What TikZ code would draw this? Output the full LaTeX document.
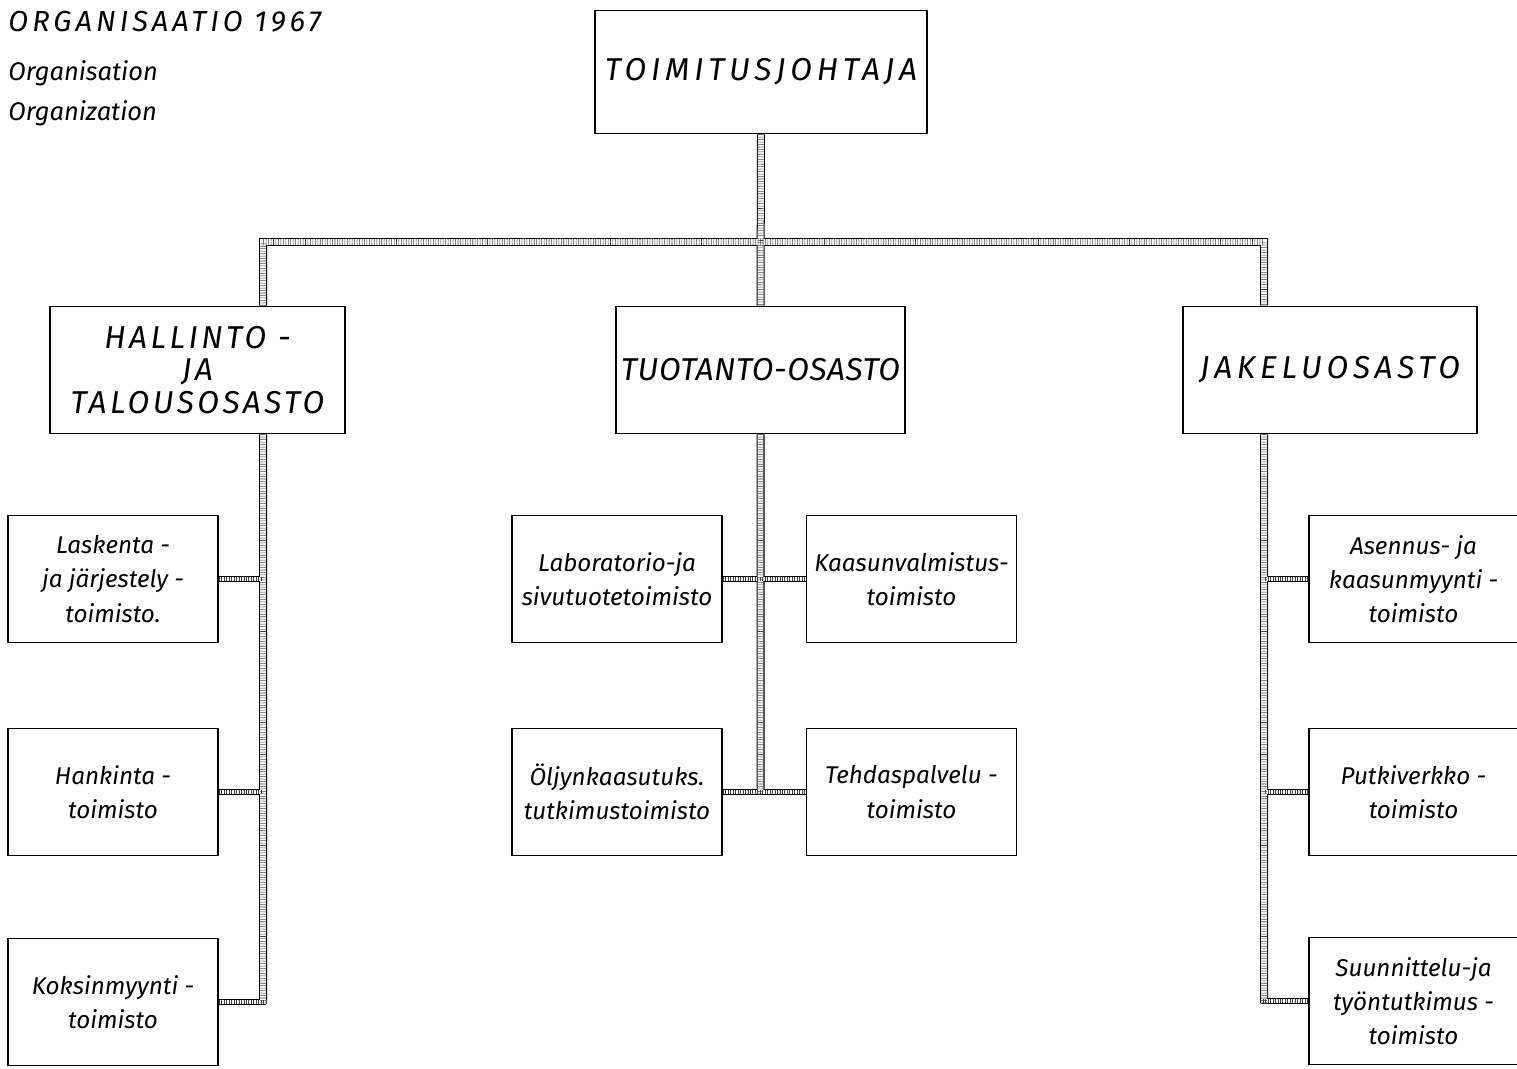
\documentclass[tikz,border=0pt]{standalone}
\usepackage{fontspec}
\setmainfont{Fira Sans}
\usetikzlibrary{calc}
\tikzset{
    every picture/.style={font=\itshape},
    box/.style={draw, line width=1.1pt, fill=white, align=center, inner sep=2pt},
    dept/.style={box, font={\fontsize{18}{18.5}\selectfont\itshape\addfontfeature{LetterSpace=#1}}},
    office/.style={box, minimum width=4.2cm, minimum height=2.54cm,
        font=\fontsize{13.8}{19.5}\selectfont\itshape},
    trunkout/.style={line width=4.55pt},
    trunkin/.style={line width=3.4pt, white},
    trunkhatch/.style={line width=3.4pt, black!75, dash pattern=on 0.3pt off 1.1pt},
    branchout/.style={line width=3.4pt},
    branchin/.style={line width=2.28pt, white},
    branchhatch/.style={line width=2.28pt, black!75, dash pattern=on 0.3pt off 1.1pt}
}

\begin{document}
\begin{tikzpicture}[x=0.02cm, y=-0.02cm]
    \useasboundingbox (0,0) rectangle (1517,1068);
    % heading
    \node[anchor=base west, inner sep=0pt, font={\fontsize{16.5}{18}\selectfont\itshape\addfontfeature{LetterSpace=14}}] (title) at (8,32) {ORGANISAATIO 1967};
    \node[anchor=base west, inner sep=0pt, font=\fontsize{14.5}{16}\selectfont\itshape] (sub1) at (8,81) {Organisation};
    \node[anchor=base west, inner sep=0pt, font=\fontsize{14.5}{16}\selectfont\itshape] (sub2) at (8,120) {Organization};

    % management
    \node[dept=15, minimum width=6.64cm, minimum height=2.46cm] (ceo) at (761,72) {TOIMITUSJOHTAJA};
    \node[dept=11, minimum width=5.9cm, minimum height=2.54cm] (hal) at (197.5,370) {HALLINTO -\\JA\\TALOUSOSASTO};
    \node[dept=2, minimum width=5.78cm, minimum height=2.54cm] (tuot) at (760.5,370) {TUOTANTO-OSASTO};
    \node[dept=15, minimum width=5.88cm, minimum height=2.54cm] (jak) at (1330,370) {JAKELUOSASTO};

    % offices
    \node[office] (lask) at (113,579) {Laskenta -\\ja järjestely -\\toimisto.};
    \node[office] (hank) at (113,792) {Hankinta -\\toimisto};
    \node[office] (koks) at (113,1002) {Koksinmyynti -\\toimisto};
    \node[office] (lab) at (617,579) {Laboratorio-ja\\sivutuotetoimisto};
    \node[office] (kaas) at (911.5,579) {Kaasunvalmistus-\\toimisto};
    \node[office] (olj) at (617,792) {Öljynkaasutuks.\\tutkimustoimisto};
    \node[office] (tehd) at (911.5,792) {Tehdaspalvelu -\\toimisto};
    \node[office] (ases) at (1413.5,579) {Asennus- ja\\kaasunmyynti -\\toimisto};
    \node[office] (putk) at (1413.5,792) {Putkiverkko -\\toimisto};
    \node[office] (suun) at (1413.5,1001) {Suunnittelu-ja\\työntutkimus -\\toimisto};

    % ducts
    \coordinate (lsp) at (263,242);
    \coordinate (rsp) at (1264,242);
    \newcommand\trunkpath{(ceo.south) -- (tuot.north)
        (lsp |- hal.north) -- (lsp) -- (rsp) -- (rsp |- jak.north)
        (lsp |- hal.south) -- ($(lsp |- koks.east)+(0,2)$)
        (tuot.south) -- ($(tuot.south |- olj.east)+(0,2)$)
        (rsp |- jak.south) -- ($(rsp |- suun.west)+(0,2)$)}
    \newcommand\branchpath{(lask.east) -- (lask.east -| lsp)
        (hank.east) -- (hank.east -| lsp)
        (koks.east) -- ($(koks.east -| lsp)+(3,0)$)
        (lab.east) -- (kaas.west)
        (olj.east) -- (tehd.west)
        (ases.west) -- (ases.west -| rsp)
        (putk.west) -- (putk.west -| rsp)
        (suun.west) -- ($(suun.west -| rsp)+(-3,0)$)}
    \draw[trunkout] \trunkpath;
    \draw[branchout] \branchpath;
    \draw[trunkin] \trunkpath;
    \draw[branchin] \branchpath;
    \draw[trunkhatch] \trunkpath;
    \draw[branchhatch] \branchpath;
\end{tikzpicture}
\end{document}
